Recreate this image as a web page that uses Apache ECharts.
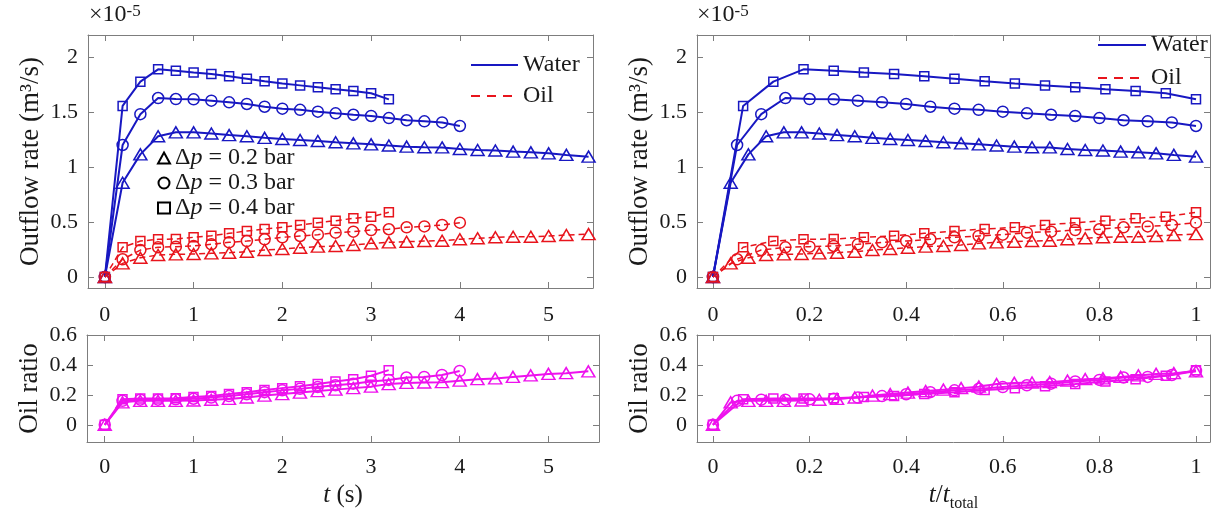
<!DOCTYPE html>
<html><head><meta charset="utf-8">
<script src="https://cdn.jsdelivr.net/npm/echarts@6/dist/echarts.min.js"></script>
<style>html,body{margin:0;padding:0;background:#fff}#c{width:1227px;height:517px}</style>
</head><body><div id="c"></div>
<script>
// ---- data (flow rates in 1e-5 m^3/s, time in s) ----
const t04 = [0,0.2,0.4,0.6,0.8,1.0,1.2,1.4,1.6,1.8,2.0,2.2,2.4,2.6,2.8,3.0,3.2];
const t03 = [0,0.2,0.4,0.6,0.8,1.0,1.2,1.4,1.6,1.8,2.0,2.2,2.4,2.6,2.8,3.0,3.2,3.4,3.6,3.8,4.0];
const t02 = [0,0.2,0.4,0.6,0.8,1.0,1.2,1.4,1.6,1.8,2.0,2.2,2.4,2.6,2.8,3.0,3.2,3.4,3.6,3.8,4.0,4.2,4.4,4.6,4.8,5.0,5.2,5.45];

const water04 = [0,1.555,1.776,1.888,1.876,1.86,1.845,1.824,1.803,1.78,1.76,1.742,1.724,1.706,1.69,1.67,1.615];
const water03 = [0,1.2,1.48,1.627,1.618,1.615,1.603,1.588,1.573,1.548,1.53,1.52,1.503,1.488,1.475,1.464,1.445,1.425,1.415,1.405,1.373];
const water02 = [0,0.857,1.115,1.28,1.315,1.315,1.305,1.29,1.28,1.265,1.255,1.245,1.236,1.225,1.215,1.206,1.195,1.185,1.18,1.178,1.164,1.155,1.15,1.14,1.133,1.124,1.11,1.094];

const oil04 = [0,0.27,0.327,0.343,0.345,0.361,0.375,0.397,0.418,0.436,0.452,0.473,0.494,0.512,0.533,0.548,0.588];
const oil03 = [0,0.161,0.245,0.27,0.276,0.282,0.297,0.315,0.327,0.343,0.361,0.373,0.385,0.403,0.412,0.427,0.434,0.452,0.46,0.473,0.494];
const oil02 = [0,0.124,0.175,0.2,0.206,0.209,0.215,0.221,0.23,0.245,0.255,0.266,0.276,0.282,0.291,0.306,0.315,0.321,0.327,0.33,0.343,0.352,0.361,0.366,0.366,0.373,0.382,0.39];

const ratio04 = [0,0.17,0.175,0.175,0.178,0.185,0.193,0.205,0.218,0.232,0.245,0.258,0.272,0.29,0.305,0.328,0.365];
const ratio03 = [0,0.16,0.168,0.168,0.17,0.174,0.182,0.192,0.204,0.218,0.23,0.24,0.252,0.264,0.275,0.29,0.3,0.316,0.32,0.333,0.36];
const ratio02 = [0,0.15,0.16,0.16,0.16,0.162,0.167,0.173,0.182,0.195,0.205,0.215,0.225,0.235,0.245,0.255,0.272,0.28,0.283,0.285,0.295,0.305,0.31,0.32,0.33,0.34,0.345,0.357];

const xTicksT = [0,1,2,3,4,5];
const xTicksN = [0,0.2,0.4,0.6,0.8,1];
const yTicksQ = [0,0.5,1,1.5,2];
const yTicksR = [0,0.2,0.4,0.6];
const legendFluid = ['Water','Oil'];
const legendDp = ['Δp = 0.2 bar','Δp = 0.3 bar','Δp = 0.4 bar'];

// ---- style ----
const FONT = '"Liberation Serif","Times New Roman",serif';
const TXT = '#1a1a1a';
const AX = '#7d7d7d';
const BLUE = '#1818c2', RED = '#e8141c', MAG = '#ee11ee';

const norm = ts => ts.map(v => v / ts[ts.length - 1]);

const grids = [
  {left:88, top:35, width:505, height:253},
  {left:87, top:335, width:512, height:107},
  {left:697, top:35, width:513, height:253},
  {left:697, top:335, width:513, height:107}
];
const xr = [[-0.19,5.5],[-0.2,5.57],[-0.033,1.029],[-0.033,1.029]];
const yr = [[-0.1,2.2],[-0.115,0.6],[-0.1,2.2],[-0.115,0.6]];
const xt = [xTicksT,xTicksT,xTicksN,xTicksN];
const yt = [yTicksQ,yTicksR,yTicksQ,yTicksR];

function ax(gi, range, ticks, primary, pos, extra) {
  const mg = pos === 'left' ? 10 : (gi % 2 === 0 ? 16 : 14);
  return Object.assign({
    type:'value', gridIndex:gi, min:range[0], max:range[1], position:pos,
    axisLine:{show:true, onZero:false, lineStyle:{color:AX, width:1}},
    axisTick:{show:true, inside:true, length:6, customValues:ticks, lineStyle:{color:AX, width:1}},
    axisLabel:{show:primary, customValues:ticks, fontFamily:FONT, fontSize:22, color:TXT, margin:mg},
    splitLine:{show:false}
  }, extra || {});
}
const rich = {
  i:{fontFamily:FONT, fontSize:25, fontStyle:'italic', color:TXT, lineHeight:25, verticalAlign:'top'},
  n:{fontFamily:FONT, fontSize:25, color:TXT, lineHeight:25, verticalAlign:'top'},
  s:{fontFamily:FONT, fontSize:16, color:TXT, lineHeight:16, padding:[13,0,0,0], verticalAlign:'top'}
};
const xAxes = [], yAxes = [];
for (let g = 0; g < 4; g++) {
  let extra = {};
  if (g === 1) extra = {name:'{i|t}{n| (s)}', nameLocation:'middle', nameGap:41, nameTextStyle:{fontFamily:FONT, fontSize:25, color:TXT, rich}};
  if (g === 3) extra = {name:'{i|t}{n|/}{i|t}{s|total}', nameLocation:'middle', nameGap:41, nameTextStyle:{fontFamily:FONT, fontSize:25, color:TXT, rich}};
  xAxes.push(ax(g, xr[g], xt[g], true, 'bottom', extra));
}
for (let g = 0; g < 4; g++) xAxes.push(ax(g, xr[g], xt[g], false, 'top'));
for (let g = 0; g < 4; g++) {
  const nm = (g % 2 === 0) ? 'Outflow rate (m³/s)' : 'Oil ratio';
  yAxes.push(ax(g, yr[g], yt[g], true, 'left', {name:nm, nameLocation:'middle', nameGap:44,
    nameTextStyle:{fontFamily:FONT, fontSize:27, color:TXT}}));
}
for (let g = 0; g < 4; g++) yAxes.push(ax(g, yr[g], yt[g], false, 'right'));

function mk(name, gi, xs, ys, color, symbol, size, dashed, width) {
  return {
    name, type:'line', xAxisIndex:gi, yAxisIndex:gi,
    data: xs.map((x, i) => [x, ys[i]]),
    symbol, symbolSize:size, showSymbol:true, clip:false,
    lineStyle:{color, width, type: dashed ? [6,4] : 'solid'},
    itemStyle:{color:'rgba(0,0,0,0)', borderColor:color, borderWidth:1.5},
    emphasis:{disabled:true}, silent:true, z:3
  };
}
const TRI = [13,11], CIR = 11, SQ = 9;
const series = [];
// legend-only series
series.push({name:'Water', type:'line', xAxisIndex:0, yAxisIndex:0, data:[], symbol:'none', lineStyle:{color:BLUE, width:2}, itemStyle:{color:BLUE}});
series.push({name:'Oil', type:'line', xAxisIndex:0, yAxisIndex:0, data:[], symbol:'none', lineStyle:{color:RED, width:1.8, type:[9,7]}, itemStyle:{color:RED}});
const dpSym = ['triangle','circle','rect'];
legendDp.forEach((n, k) => series.push({name:n, type:'line', xAxisIndex:0, yAxisIndex:0, data:[], symbol:dpSym[k],
  lineStyle:{width:0}, itemStyle:{color:'rgba(0,0,0,0)', borderColor:'#000', borderWidth:1.5}}));

const sets = [
  {t:t02, w:water02, o:oil02, r:ratio02, sym:'triangle', sz:TRI, lab:'0.2 bar'},
  {t:t03, w:water03, o:oil03, r:ratio03, sym:'circle', sz:CIR, lab:'0.3 bar'},
  {t:t04, w:water04, o:oil04, r:ratio04, sym:'rect', sz:SQ, lab:'0.4 bar'}
];
sets.forEach(s => {
  const tn = norm(s.t);
  series.push(mk('water '+s.lab, 0, s.t, s.w, BLUE, s.sym, s.sz, false, 2));
  series.push(mk('oil '+s.lab, 0, s.t, s.o, RED, s.sym, s.sz, true, 1.5));
  series.push(mk('ratio '+s.lab, 1, s.t, s.r, MAG, s.sym, s.sz, false, 2));
  series.push(mk('water norm '+s.lab, 2, tn, s.w, BLUE, s.sym, s.sz, false, 2));
  series.push(mk('oil norm '+s.lab, 2, tn, s.o, RED, s.sym, s.sz, true, 1.5));
  series.push(mk('ratio norm '+s.lab, 3, tn, s.r, MAG, s.sym, s.sz, false, 2));
});

const legTxt = {fontFamily:FONT, fontSize:24, color:TXT};
const noSym = {color:'rgba(0,0,0,0)', borderWidth:0, opacity:0};
const fluidData = legendFluid.map(n => ({name:n, itemStyle:noSym}));
const option = {
  animation:false,
  backgroundColor:'#fff',
  grid:grids,
  xAxis:xAxes,
  yAxis:yAxes,
  legend:[
    {data:fluidData, orient:'vertical', left:465, top:48, itemWidth:47, itemHeight:14, itemGap:7, textStyle:legTxt, selectedMode:false},
    {data:fluidData, orient:'vertical', left:1092, top:28, itemWidth:48, itemHeight:14, itemGap:9, textStyle:legTxt, selectedMode:false},
    {data:legendDp.map((n,k)=>({name:n, icon:dpSym[k]})), orient:'vertical', left:152, top:141,
     itemWidth:12, itemHeight:11, itemGap:1, selectedMode:false,
     formatter: n => '{n|Δ}{i|p}{n|' + n.slice(2) + '}',
     textStyle:{fontFamily:FONT, fontSize:24, color:TXT, rich:{
       n:{fontFamily:FONT, fontSize:24, color:TXT},
       i:{fontFamily:FONT, fontSize:24, fontStyle:'italic', color:TXT}}}}
  ],
  graphic:[0,1].map(k => ({
    type:'text', x:(k===0?89:697), y:3, silent:true,
    style:{text:'{a|×10}{s|-5}', rich:{
      a:{fontFamily:FONT, fontSize:24, fill:TXT, lineHeight:24, verticalAlign:'bottom'},
      s:{fontFamily:FONT, fontSize:17, fill:TXT, lineHeight:17, padding:[0,0,12,0], verticalAlign:'top'}}}
  })),
  series
};
const chart = echarts.init(document.getElementById('c'), null, {renderer:'canvas'});
chart.setOption(option);
</script>
</body></html>
